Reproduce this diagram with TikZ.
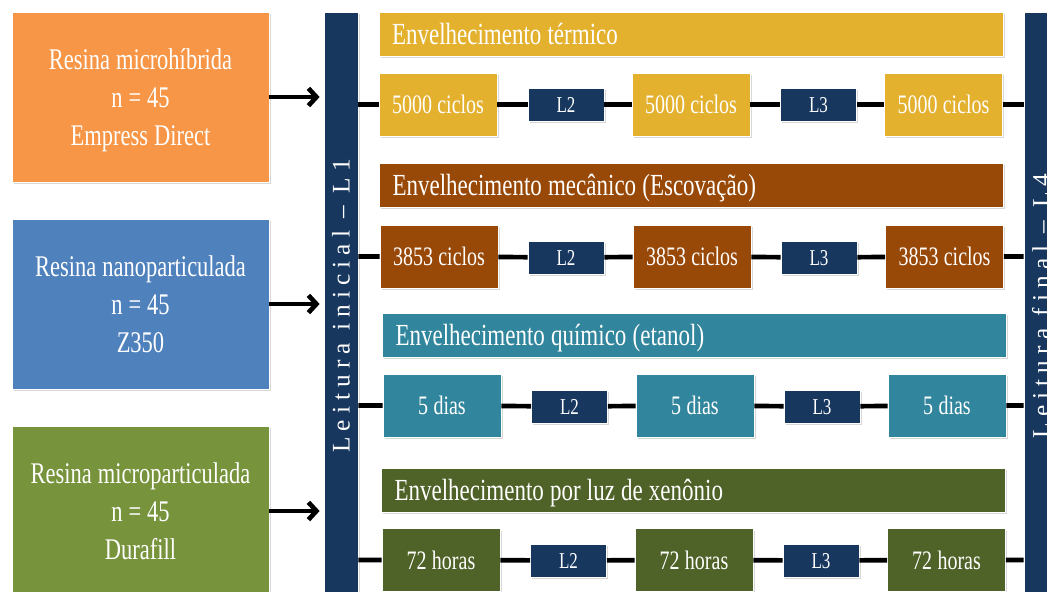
\documentclass[tikz,border=0pt]{standalone}
\usepackage{fontspec}
\setmainfont{Liberation Serif}[FakeStretch=0.75]
\newfontfamily\barfont{Liberation Serif}[LetterSpace=24]
\usetikzlibrary{arrows.meta,shadows}

\definecolor{resinorange}{HTML}{F79646}
\definecolor{resinblue}{HTML}{4F81BD}
\definecolor{resingreen}{HTML}{77933C}
\definecolor{navy}{HTML}{17375E}
\definecolor{gold}{HTML}{E4B12F}
\definecolor{brown}{HTML}{984807}
\definecolor{teal}{HTML}{31859C}
\definecolor{olive}{HTML}{4F6228}

\tikzset{
  base/.style={rectangle, draw=white, line width=0.6pt, text=white, inner sep=0pt,
    text depth=0pt, execute at begin node={\spaceskip=0.2em plus 0.1em minus 0.05em\relax},
    drop shadow={shadow xshift=1.2pt, shadow yshift=-1.5pt, opacity=0.3}},
  sample/.style={base, minimum width=192.75pt, minimum height=127.5pt, align=center,
    font=\fontsize{22.5}{28.5}\selectfont},
  bar/.style={base, fill=navy, minimum width=25.5pt, minimum height=441pt},
  bartext/.style={rotate=90, text=white, font=\barfont\fontsize{19}{22}\selectfont},
  header/.style={base, text width=448.5pt, inner xsep=9.75pt, minimum height=33pt,
    align=left, font=\fontsize{23}{26}\selectfont},
  agebox/.style={base, minimum width=88.5pt, minimum height=47.25pt,
    font=\fontsize{20}{24}\selectfont},
  readbox/.style={base, fill=navy, minimum width=57pt, minimum height=24.75pt,
    font=\fontsize{17}{20}\selectfont},
  link/.style={line width=3.5pt},
  feed/.style={line width=3.5pt, shorten >=3pt, -{Straight Barb[length=6pt,width=13pt]}}
}

\begin{document}
\begin{tikzpicture}[x=0.75pt, y=-0.75pt]
  \useasboundingbox (0,0) rectangle (1047,592);
  \fill[white] (0,0) rectangle (1047,592);
  \clip (0,0) rectangle (1047,592);

  % samples
  \node[sample, fill=resinorange] (s1) at (140.5,97) {Resina microhíbrida\\n = 45\\Empress Direct};
  \node[sample, fill=resinblue] (s2) at (140.5,304) {Resina nanoparticulada\\n = 45\\Z350};
  \node[sample, fill=resingreen] (s3) at (140.5,511) {Resina microparticulada\\n = 45\\Durafill};

  % readings
  \node[bar] (l1) at (341,306) {};
  \node[bartext] (l1text) at (l1) {Leitura inicial – L1};
  \node[bar] (l4) at (1041,306) {};
  \node[bartext] (l4text) at (l4) {Leitura final – L4};

  \draw[feed] (s1.east) -- (s1.east -| l1.west);
  \draw[feed] (s2.east) -- (s2.east -| l1.west);
  \draw[feed] (s3.east) -- (s3.east -| l1.west);

  % thermal
  \node[header, fill=gold] (h1) at (691,34) {Envelhecimento térmico};
  \node[agebox, fill=gold] (r1a) at (438,104.5) {5000 ciclos};
  \node[readbox] (r1b) at (566,104.5) {L2};
  \node[agebox, fill=gold] (r1c) at (691,104.5) {5000 ciclos};
  \node[readbox] (r1d) at (818.5,104.5) {L3};
  \node[agebox, fill=gold] (r1e) at (943.5,104.5) {5000 ciclos};
  \draw[link] (l1.east |- r1a) -- (r1a) -- (r1b) -- (r1c) -- (r1d) -- (r1e) -- (r1e -| l4.west);

  % mechanical
  \node[header, fill=brown] (h2) at (691.5,185) {Envelhecimento mecânico (Escovação)};
  \node[agebox, fill=brown] (r2a) at (439,256.5) {3853 ciclos};
  \node[readbox] (r2b) at (566,257.5) {L2};
  \node[agebox, fill=brown] (r2c) at (692,256.5) {3853 ciclos};
  \node[readbox] (r2d) at (819,257.5) {L3};
  \node[agebox, fill=brown] (r2e) at (944.5,256.5) {3853 ciclos};
  \draw[link] (l1.east |- r2a) -- (r2a) -- (r2b) -- (r2c) -- (r2d) -- (r2e) -- (r2e -| l4.west);

  % chemical
  \node[header, fill=teal] (h3) at (694.5,335) {Envelhecimento químico (etanol)};
  \node[agebox, fill=teal] (r3a) at (442,405.5) {5 dias};
  \node[readbox] (r3b) at (569.5,406.5) {L2};
  \node[agebox, fill=teal] (r3c) at (695,405.5) {5 dias};
  \node[readbox] (r3d) at (822,406.5) {L3};
  \node[agebox, fill=teal] (r3e) at (947,405.5) {5 dias};
  \draw[link] (l1.east |- r3a) -- (r3a) -- (r3b) -- (r3c) -- (r3d) -- (r3e) -- (r3e -| l4.west);

  % xenon light
  \node[header, fill=olive] (h4) at (693.5,490) {Envelhecimento por luz de xenônio};
  \node[agebox, fill=olive] (r4a) at (441,560) {72 horas};
  \node[readbox] (r4b) at (568.5,560.5) {L2};
  \node[agebox, fill=olive] (r4c) at (694,560) {72 horas};
  \node[readbox] (r4d) at (821,560.5) {L3};
  \node[agebox, fill=olive] (r4e) at (946.5,560) {72 horas};
  \draw[link] (l1.east |- r4a) -- (r4a) -- (r4b) -- (r4c) -- (r4d) -- (r4e) -- (r4e -| l4.west);
\end{tikzpicture}
\end{document}
